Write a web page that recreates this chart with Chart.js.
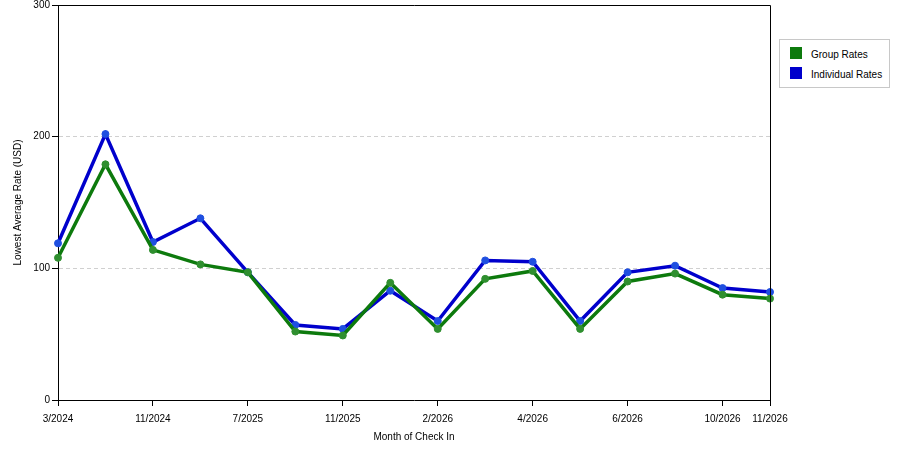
<!DOCTYPE html>
<html>
<head>
<meta charset="utf-8">
<script src="https://cdn.jsdelivr.net/npm/chart.js@4/dist/chart.umd.min.js"></script>
<style>
  html, body { margin: 0; padding: 0; background: #fff; }
  #wrap { position: relative; width: 900px; height: 450px; }
  canvas { display: block; }
  #legend {
    position: absolute; left: 779px; top: 39px; width: 109px; height: 47px;
    border: 1px solid #c8c8c8; background: #fff;
    font-family: "Liberation Sans", Arial, sans-serif; font-size: 10px; color: #000;
  }
  .item { position: absolute; left: 10px; height: 13px; line-height: 13px; white-space: nowrap; }
  .sw { position: absolute; left: 0; top: 0; width: 12px; height: 12px; }
  .lb { position: absolute; left: 21px; top: 1px; }
</style>
</head>
<body>
<div id="wrap">
  <canvas id="c" width="900" height="450"></canvas>
  <div id="legend"></div>
</div>
<script>
const categories = ["3/2024","7/2024","11/2024","3/2025","7/2025","9/2025","11/2025","12/2025","2/2026","3/2026","4/2026","5/2026","6/2026","8/2026","10/2026","11/2026"];
const shownLabels = ["3/2024","11/2024","7/2025","11/2025","2/2026","4/2026","6/2026","10/2026","11/2026"];
const groupRates = [108, 179, 114, 103, 97, 52, 49, 89, 54, 92, 98, 54, 90, 96, 80, 77];
const individualRates = [119, 202, 120, 138, 97, 57, 54, 83, 60, 106, 105, 60, 97, 102, 85, 82];
const seriesNames = ["Group Rates", "Individual Rates"];
const seriesColors = ["#0d7a0d", "#0000cc"];
const pointColors = ["#2f8f2f", "#1f4fe0"];
const yTicks = [0, 100, 200, 300];

const FONT = "'Liberation Sans', Arial, sans-serif";

const framePlugin = {
  id: 'frame',
  afterDatasetsDraw(chart) {
    const a = chart.chartArea, ctx = chart.ctx;
    ctx.save();
    ctx.strokeStyle = '#000';
    ctx.lineWidth = 1;
    ctx.beginPath();
    ctx.moveTo(a.left, a.top + 0.5);
    ctx.lineTo(a.right + 0.5, a.top + 0.5);
    ctx.lineTo(a.right + 0.5, a.bottom);
    ctx.stroke();
    ctx.restore();
  }
};

new Chart(document.getElementById('c'), {
  type: 'line',
  data: {
    labels: categories,
    datasets: [groupRates, individualRates].map((d, i) => ({
      label: seriesNames[i],
      data: d,
      borderColor: seriesColors[i],
      backgroundColor: pointColors[i],
      borderWidth: 3.5,
      pointRadius: 3.5,
      pointBorderWidth: 1,
      pointBorderColor: pointColors[i],
      pointBackgroundColor: pointColors[i],
      tension: 0,
      fill: false
    }))
  },
  options: {
    responsive: false,
    animation: false,
    devicePixelRatio: 1,
    layout: { padding: { left: 0, right: 130, top: 0, bottom: 0 } },
    plugins: { legend: { display: false }, tooltip: { enabled: false } },
    scales: {
      x: {
        type: 'category',
        offset: false,
        afterFit(s) { s.height = 50; },
        grid: { drawOnChartArea: false, drawTicks: true, tickLength: 6, tickColor: '#000', tickWidth: 1 },
        border: { display: true, color: '#000', width: 1 },
        ticks: {
          autoSkip: false, maxRotation: 0, minRotation: 0, padding: 7,
          color: '#000', font: { family: FONT, size: 10 },
          callback(v, i) {
            const l = categories[i];
            return shownLabels.includes(l) ? l : null;
          }
        },
        title: { display: true, text: 'Month of Check In', color: '#000', font: { family: FONT, size: 10 }, padding: { top: 4, bottom: 7 } }
      },
      y: {
        min: 0, max: 300,
        afterFit(s) { s.width = 58; s.paddingTop = 5; },
        afterBuildTicks(s) { s.ticks = yTicks.map(v => ({ value: v })); },
        grid: {
          color: '#d0d0d0', lineWidth: 1, drawTicks: true, tickLength: 6,
          tickColor: '#000', tickWidth: 1, tickBorderDash: []
        },
        border: { display: true, color: '#000', width: 1, dash: [4, 3] },
        ticks: { color: '#000', font: { family: FONT, size: 10 }, padding: 2 },
        title: { display: true, text: 'Lowest Average Rate (USD)', color: '#000', font: { family: FONT, size: 10 }, padding: { top: 12, bottom: 0 } }
      }
    }
  },
  plugins: [framePlugin]
});

const lg = document.getElementById('legend');
seriesNames.forEach((n, i) => {
  const it = document.createElement('div');
  it.className = 'item';
  it.style.top = (7 + i * 20) + 'px';
  it.innerHTML = '<span class="sw" style="background:' + seriesColors[i] + '"></span><span class="lb"></span>';
  it.querySelector('.lb').textContent = n;
  lg.appendChild(it);
});
</script>
</body>
</html>
